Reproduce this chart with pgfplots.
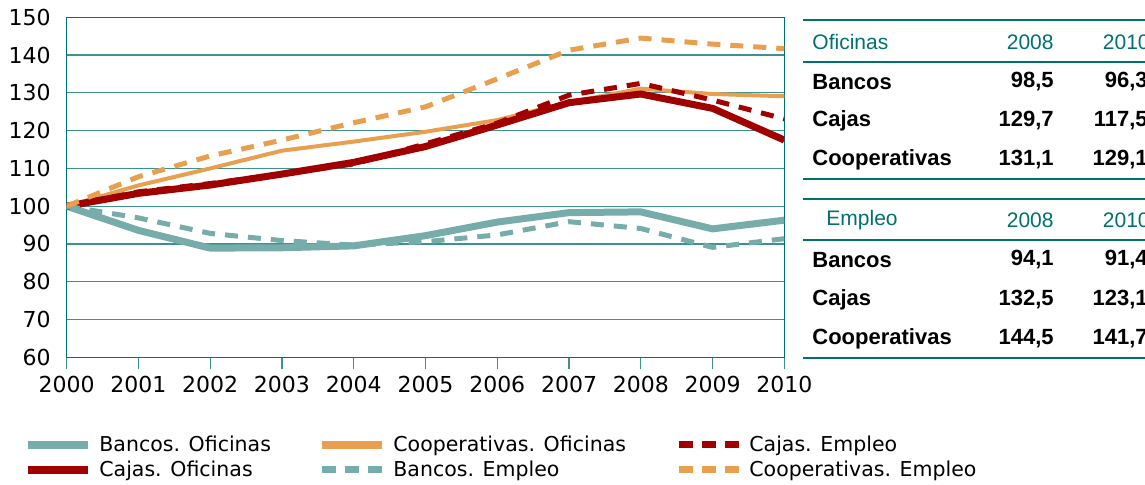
\documentclass[border=0pt]{standalone}
\usepackage{fontspec}
\setmainfont{DejaVu Sans}
\newfontfamily\tabfont{Liberation Sans}
\usepackage{pgfplots}
\pgfplotsset{compat=1.18}
\definecolor{cteal}{RGB}{118,172,170}
\definecolor{cred}{RGB}{160,0,0}
\definecolor{corange}{RGB}{232,160,80}
\definecolor{dkteal}{RGB}{0,112,112}
\definecolor{gteal}{RGB}{60,145,145}
\pgfplotsset{
  solidleg/.style={legend image code/.code={\draw[line width=4pt, solid] (0pt,0pt) -- (30pt,0pt);}},
  dashleg/.style={legend image code/.code={\draw[line width=3.5pt, dash pattern=on 7pt off 4.5pt] (0pt,0pt) -- (30pt,0pt);}},
}

\begin{document}
\begin{tikzpicture}
\useasboundingbox (0,0) rectangle (572.5pt,242pt);
\begin{axis}[
  scale only axis, width=358.8pt, height=170pt,
  at={(33.35pt,63.35pt)}, anchor=south west,
  xmin=2000, xmax=2010, ymin=60, ymax=150,
  xtick={2000,2001,...,2010}, ytick={60,70,...,150},
  /pgf/number format/1000 sep={},
  /pgf/number format/assume math mode=true,
  tick label style={font=\fontsize{11}{13}\selectfont},
  ymajorgrids, grid style={gteal, line width=0.6pt},
  axis line style={dkteal, line width=0.65pt},
  tick align=outside, major tick length=6pt,
  xtick pos=bottom, ytick pos=left,
  xtick style={gteal, line width=0.7pt},
  ytick style={draw=none},
  yticklabel style={xshift=1.5pt},
  legend columns=3,
  legend style={at={(axis description cs:-0.0595,-0.229)}, anchor=north west,
    draw=none, fill=none, inner sep=0pt,
    font=\fontsize{10.25}{12}\selectfont,
    nodes={inner sep=0pt},
    row sep=3.25pt,
    /tikz/every odd column/.append style={column sep=3.5pt}},
  legend cell align=left,
]
\addplot[cteal, line width=3.5pt, solidleg] coordinates {
 (2000,100) (2001,93.6) (2002,88.9) (2003,89) (2004,89.5) (2005,92.2)
 (2006,95.8) (2007,98.3) (2008,98.5) (2009,94) (2010,96.3)};
\addlegendentry{\makebox[109.5pt][l]{Bancos. Oficinas}}
\addplot[corange, line width=2pt, solidleg] coordinates {
 (2000,100) (2001,105.5) (2002,110) (2003,114.7) (2004,117.1) (2005,119.7)
 (2006,122.8) (2007,127.5) (2008,131.1) (2009,129.7) (2010,129.1)};
\addlegendentry{\makebox[141pt][l]{Cooperativas. Oficinas}}
\addplot[cred, line width=2.5pt, dash pattern=on 6.5pt off 5pt, dashleg] coordinates {
 (2000,100) (2001,103.8) (2002,106) (2003,108.5) (2004,111.2) (2005,116.5)
 (2006,122) (2007,129.4) (2008,132.5) (2009,128.1) (2010,123.1)};
\addlegendentry{Cajas. Empleo}
\addplot[cred, line width=3.5pt, solidleg] coordinates {
 (2000,100) (2001,103.4) (2002,105.6) (2003,108.5) (2004,111.6) (2005,115.8)
 (2006,121.5) (2007,127.4) (2008,129.7) (2009,125.9) (2010,117.5)};
\addlegendentry{\makebox[109.5pt][l]{Cajas. Oficinas}}
\addplot[cteal, line width=2.5pt, dash pattern=on 6.5pt off 5pt, dashleg] coordinates {
 (2000,100) (2001,96.9) (2002,92.8) (2003,90.9) (2004,89.7) (2005,90.6)
 (2006,92.4) (2007,95.9) (2008,94.1) (2009,89.1) (2010,91.4)};
\addlegendentry{\makebox[141pt][l]{Bancos. Empleo}}
\addplot[corange, line width=2.5pt, dash pattern=on 6.5pt off 5pt, dashleg] coordinates {
 (2000,100) (2001,107.8) (2002,113.3) (2003,117.5) (2004,122.1) (2005,126.3)
 (2006,133.7) (2007,141.3) (2008,144.5) (2009,142.9) (2010,141.7)};
\addlegendentry{Cooperativas. Empleo}
\end{axis}

% table on the right
\begin{scope}[x=0.5pt, y=0.5pt]
\foreach \yy in {20,179,199,358} \draw[dkteal, line width=1.2pt] (803,484-\yy) -- (1160,484-\yy);
\foreach \yy in {62,240} \draw[dkteal, line width=0.6pt] (803,484-\yy) -- (1160,484-\yy);
\tikzset{hd/.style={font=\tabfont\fontsize{10.5}{12}\selectfont, text=dkteal, inner sep=0pt},
         bd/.style={font=\tabfont\fontsize{11}{13}\selectfont\bfseries, inner sep=0pt}}
% Oficinas block
\node[hd, anchor=west] at (812,484-42) {Oficinas};
\node[hd, anchor=east] at (1054,484-42) {2008};
\node[hd, anchor=east] at (1150,484-42) {2010};
\node[bd, anchor=west] at (812,484-82) {Bancos};
\node[bd, anchor=east] at (1054,484-82) {98,5};
\node[bd, anchor=east] at (1148,484-82) {96,3};
\node[bd, anchor=west] at (812,484-121) {Cajas};
\node[bd, anchor=east] at (1054,484-121) {129,7};
\node[bd, anchor=east] at (1148,484-121) {117,5};
\node[bd, anchor=west] at (812,484-160) {Cooperativas};
\node[bd, anchor=east] at (1054,484-160) {131,1};
\node[bd, anchor=east] at (1148,484-160) {129,1};
% Empleo block
\node[hd, anchor=west] at (826,484-220) {Empleo};
\node[hd, anchor=east] at (1054,484-220) {2008};
\node[hd, anchor=east] at (1150,484-220) {2010};
\node[bd, anchor=west] at (812,484-260) {Bancos};
\node[bd, anchor=east] at (1054,484-260) {94,1};
\node[bd, anchor=east] at (1148,484-260) {91,4};
\node[bd, anchor=west] at (812,484-300) {Cajas};
\node[bd, anchor=east] at (1054,484-300) {132,5};
\node[bd, anchor=east] at (1148,484-300) {123,1};
\node[bd, anchor=west] at (812,484-339) {Cooperativas};
\node[bd, anchor=east] at (1054,484-339) {144,5};
\node[bd, anchor=east] at (1148,484-339) {141,7};
\end{scope}
\end{tikzpicture}
\end{document}
